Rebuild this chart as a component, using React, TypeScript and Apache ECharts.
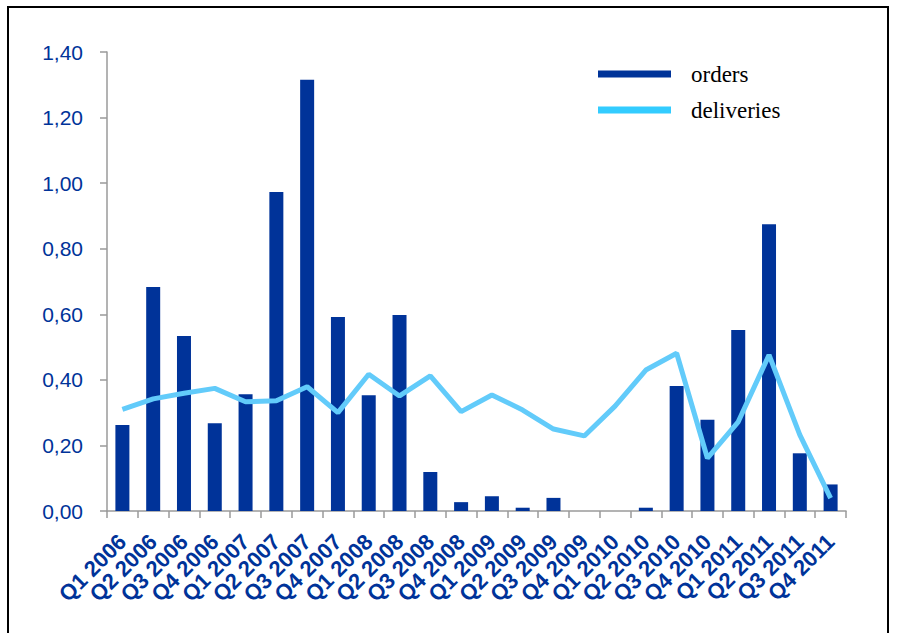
import React, { useEffect, useRef } from "react";
import * as echarts from "echarts";

const categories = [
  "Q1 2006", "Q2 2006", "Q3 2006", "Q4 2006",
  "Q1 2007", "Q2 2007", "Q3 2007", "Q4 2007",
  "Q1 2008", "Q2 2008", "Q3 2008", "Q4 2008",
  "Q1 2009", "Q2 2009", "Q3 2009", "Q4 2009",
  "Q1 2010", "Q2 2010", "Q3 2010", "Q4 2010",
  "Q1 2011", "Q2 2011", "Q3 2011", "Q4 2011",
];

const orders = [
  0.262, 0.683, 0.534, 0.268,
  0.356, 0.973, 1.315, 0.592,
  0.353, 0.598, 0.119, 0.027,
  0.045, 0.01, 0.04, 0,
  0, 0.01, 0.381, 0.278,
  0.552, 0.875, 0.176, 0.081,
];

const deliveries = [
  0.31, 0.342, 0.359, 0.374,
  0.333, 0.336, 0.379, 0.3,
  0.417, 0.351, 0.412, 0.303,
  0.354, 0.308, 0.25, 0.229,
  0.32, 0.43, 0.481, 0.161,
  0.272, 0.476, 0.232, 0.039,
];

const yTicks = { min: 0, max: 1.4, interval: 0.2 };

const BLUE = "#003399";
const LIGHT = "#62cbfa";
const AXIS = "#9a9a9a";

export default function App() {
  const ref = useRef<HTMLDivElement>(null);

  useEffect(() => {
    if (!ref.current) return;
    const chart = echarts.init(ref.current, undefined, { renderer: "svg" });
    chart.setOption({
      animation: false,
      backgroundColor: "#ffffff",
      grid: { left: 107, right: 57, top: 52, bottom: 122, containLabel: false },
      graphic: [
        {
          type: "rect",
          shape: { x: 8, y: 7, width: 880, height: 700 },
          style: { fill: "none", stroke: "#000", lineWidth: 2 },
          silent: true,
        },
      ],
      legend: {
        orient: "vertical",
        left: 593,
        top: 57,
        itemWidth: 73,
        itemHeight: 7,
        itemGap: 12,
        icon: "rect",
        textStyle: {
          fontFamily: "Liberation Serif",
          fontSize: 23,
          color: "#000",
          lineHeight: 24,
          padding: [0, 0, 0, 15],
        },
        data: [
          { name: "orders", itemStyle: { color: BLUE } },
          { name: "deliveries", itemStyle: { color: "#33ccff" } },
        ],
      },
      xAxis: {
        type: "category",
        data: categories,
        boundaryGap: true,
        axisLine: { show: true, lineStyle: { color: AXIS, width: 1.5 } },
        axisTick: { show: true, length: 7, alignWithLabel: false, lineStyle: { color: AXIS, width: 1.5 } },
        axisLabel: {
          interval: 0,
          rotate: 45,
          margin: 27,
          color: BLUE,
          fontFamily: "Liberation Sans",
          fontWeight: "bold",
          fontSize: 22,
        },
        splitLine: { show: false },
      },
      yAxis: {
        type: "value",
        min: yTicks.min,
        max: yTicks.max,
        interval: yTicks.interval,
        axisLine: { show: true, lineStyle: { color: AXIS, width: 1.5 } },
        axisTick: { show: true, length: 7, lineStyle: { color: AXIS, width: 1.5 } },
        splitLine: { show: false },
        axisLabel: {
          margin: 24,
          color: BLUE,
          fontFamily: "Liberation Sans",
          fontSize: 21,
          formatter: (v: number) => v.toFixed(2).replace(".", ","),
        },
      },
      series: [
        {
          name: "orders",
          type: "bar",
          data: orders,
          barWidth: 14,
          itemStyle: { color: BLUE },
        },
        {
          name: "deliveries",
          type: "line",
          data: deliveries,
          symbol: "none",
          lineStyle: { color: LIGHT, width: 5 },
          itemStyle: { color: LIGHT },
        },
      ],
    });
    return () => chart.dispose();
  }, []);

  return (
    <div
      ref={ref}
      style={{ position: "absolute", left: 0, top: 0, width: 903, height: 633 }}
    />
  );
}
